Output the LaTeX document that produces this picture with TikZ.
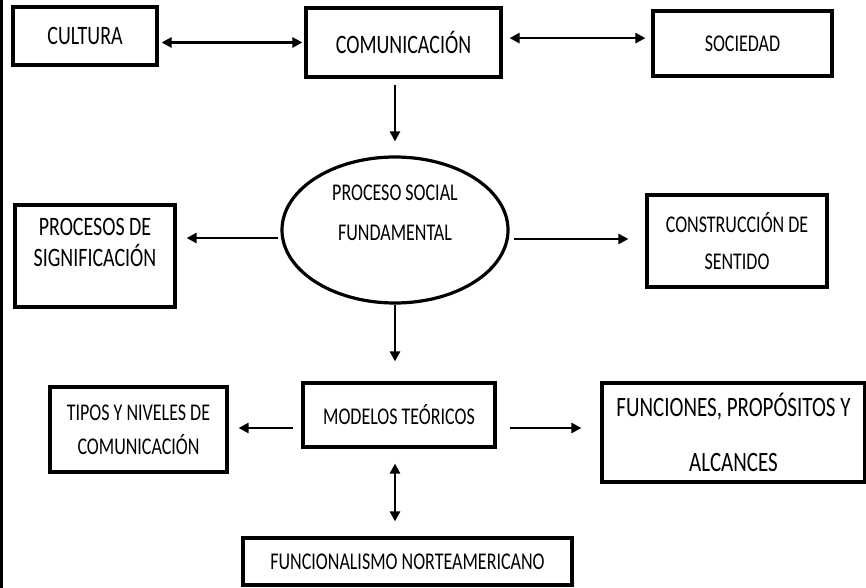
\documentclass[tikz,border=0pt]{standalone}
\usepackage{fontspec}
\setmainfont{Carlito}[FakeStretch=0.75]
\usetikzlibrary{shapes.geometric,arrows.meta}

\tikzset{
  caja/.style={draw, line width=1.6pt, inner sep=0pt, align=center},
  flecha/.style={-{Triangle[length=5pt,width=5pt]}, line width=1.3pt},
  dflecha/.style={{Triangle[length=5pt,width=5pt]}-{Triangle[length=5pt,width=5pt]}, line width=1.3pt}
}

\begin{document}
\begin{tikzpicture}[x=0.5pt,y=-0.5pt]

    \useasboundingbox (0,0) rectangle (866,588);
    \draw[line width=1.5pt] (1.5,0) -- (1.5,588);

    % fila de arriba
    \node[caja, minimum width=72pt, minimum height=29pt, font=\fontsize{13.3}{15}\selectfont] (cultura) at (85,36) {CULTURA};
    \node[caja, minimum width=97.5pt, minimum height=34.5pt, font=\fontsize{13.3}{15}\selectfont] (comunicacion) at (403.5,42.5) {COMUNICACIÓN};
    \node[caja, minimum width=89.5pt, minimum height=32.5pt, font=\fontsize{12}{14}\selectfont] (sociedad) at (742.5,43.5) {SOCIEDAD};

    % centro
    \node[ellipse, draw, line width=1.6pt, inner sep=0pt, minimum width=113pt, minimum height=73pt,
          align=center, font=\fontsize{12}{20}\selectfont, text depth=17pt] (proceso) at (395,230) {PROCESO SOCIAL\\FUNDAMENTAL};
    \node[caja, minimum width=80pt, minimum height=51pt, font=\fontsize{13.3}{15.5}\selectfont, text depth=14pt] (procesos) at (95,256) {PROCESOS DE\\SIGNIFICACIÓN};
    \node[caja, minimum width=90pt, minimum height=46pt, font=\fontsize{12}{18.5}\selectfont] (construccion) at (737,241) {CONSTRUCCIÓN DE\\SENTIDO};

    % abajo
    \node[caja, minimum width=96pt, minimum height=32pt, font=\fontsize{12}{14}\selectfont] (modelos) at (399,415) {MODELOS TEÓRICOS};
    \node[caja, minimum width=88.5pt, minimum height=42.5pt, font=\fontsize{12}{17}\selectfont] (tipos) at (138.5,429.5) {TIPOS Y NIVELES DE\\COMUNICACIÓN};
    \node[caja, minimum width=131.5pt, minimum height=49.5pt, font=\fontsize{14}{27.5}\selectfont] (funciones) at (733.5,432.5) {FUNCIONES, PROPÓSITOS Y\\ALCANCES};
    \node[caja, minimum width=164.5pt, minimum height=23.5pt, font=\fontsize{12}{14}\selectfont] (funcionalismo) at (407.5,561.5) {FUNCIONALISMO NORTEAMERICANO};

    \draw[dflecha, shorten <=1.5pt, shorten >=1pt] (cultura.east |- comunicacion.west) -- (comunicacion.west);
    \draw[dflecha, shorten <=3.5pt, shorten >=3pt] ([yshift=2.2pt]comunicacion.east) -- ([yshift=2.2pt]comunicacion.east -| sociedad.west);
    \draw[flecha, shorten <=3pt, shorten >=7pt] (comunicacion.south -| proceso.north) -- (proceso.north);

    \draw[flecha, shorten <=1pt, shorten >=5pt] ([yshift=-4pt]proceso.west) -- ([yshift=-4pt]proceso.west -| procesos.east);
    \draw[flecha, shorten <=2pt, shorten >=8.5pt] ([yshift=-4.5pt]proceso.east) -- ([yshift=-4.5pt]proceso.east -| construccion.west);
    \draw[flecha, shorten >=10pt] (proceso.south) -- (proceso.south |- modelos.north);

    \draw[flecha, shorten <=4pt, shorten >=5pt] ([yshift=-6.5pt]modelos.west) -- ([yshift=-6.5pt]modelos.west -| tipos.east);
    \draw[flecha, shorten <=6.5pt, shorten >=9.5pt] ([yshift=-6.5pt]modelos.east) -- ([yshift=-6.5pt]modelos.east -| funciones.west);
    \draw[dflecha, shorten <=7.5pt, shorten >=7.5pt] (modelos.south -| proceso.south) -- (funcionalismo.north -| proceso.south);

\end{tikzpicture}
\end{document}
